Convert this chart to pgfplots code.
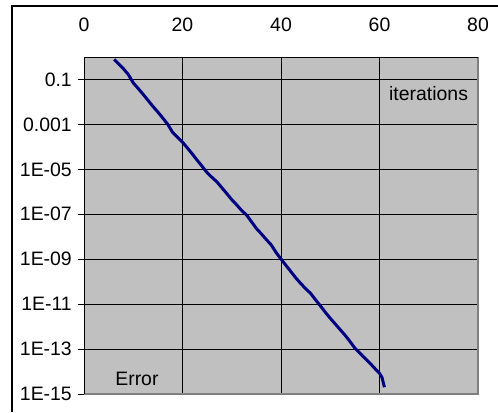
\documentclass[border=0pt]{standalone}
\usepackage{fontspec}
\setmainfont{Liberation Sans}
\usepackage{pgfplots}
\pgfplotsset{compat=1.18}
\definecolor{plotbg}{RGB}{192,192,192}
\definecolor{plotborder}{RGB}{128,128,128}
\definecolor{curve}{RGB}{0,0,128}
\begin{document}
\begin{tikzpicture}[x=1bp,y=1bp]
\useasboundingbox (-84,-18) rectangle (414,394);
\begin{axis}[
  at={(0,0)}, anchor=south west,
  scale only axis, width=394bp, height=337bp,
  xmin=0, xmax=80, ymode=log, ymin=1e-15, ymax=1,
  xtick={0,20,40,60,80},
  ytick={1e-1,1e-3,1e-5,1e-7,1e-9,1e-11,1e-13,1e-15},
  yticklabels={0.1,0.001,1E-05,1E-07,1E-09,1E-11,1E-13,1E-15},
  minor ytick={}, 
  xtick pos=upper, xticklabel pos=upper,
  ytick pos=left, yticklabel pos=left,
  xtick align=inside, ytick align=outside,
  major tick length=6bp,
  tick style={black, line width=0.8bp},
  grid=major,
  major grid style={black, line width=0.8bp},
  axis line style={draw=none},
  axis background/.style={fill=plotbg},
  /pgf/number format/assume math mode=true,
  every tick label/.append style={font=\fontsize{19.5}{23}\selectfont, inner sep=0pt},
  xticklabel style={anchor=base, yshift=25bp},
  yticklabel style={anchor=east, xshift=-6bp},
  clip=false,
]
\addplot[curve, line width=3bp, line join=round] coordinates {
(6.15,0.78) (7,0.501) (8,0.302) (9,0.166) (10,0.0708) (11,0.0398) (12,0.0219)
(13,0.01175) (14,6.31e-3) (15,3.55e-3) (16,1.91e-3) (17,1.02e-3) (18,4.37e-4)
(19,2.63e-4) (20,1.62e-4) (21,8.91e-5) (22,4.79e-5) (23,2.51e-5) (24,1.35e-5)
(25,7.08e-6) (26,4.37e-6) (27,2.75e-6) (28,1.51e-6) (29,8.32e-7) (30,4.47e-7)
(31,2.63e-7) (32,1.48e-7) (33,9.33e-8) (34,4.68e-8) (35,2.34e-8) (36,1.35e-8)
(37,7.59e-9) (38,4.37e-9) (39,2.0e-9) (40,1.02e-9) (41,5.37e-10) (42,2.82e-10)
(43,1.48e-10) (44,8.32e-11) (45,4.90e-11) (46,3.02e-11) (47,1.58e-11)
(48,8.32e-12) (49,4.37e-12) (50,2.34e-12) (51,1.32e-12) (52,7.41e-13)
(53,4.17e-13) (54,2.19e-13) (55,1.10e-13) (56,6.61e-14) (57,3.98e-14)
(58,2.45e-14) (59,1.41e-14) (60,8.32e-15) (60.5,5.5e-15) (61,2.0e-15)
};
\node[anchor=base west, inner sep=0pt, font=\fontsize{19.5}{23}\selectfont] at (rel axis cs:0.774,0.872) {iterations};
\node[anchor=base west, inner sep=0pt, font=\fontsize{19.5}{23}\selectfont] at (rel axis cs:0.079,0.025) {Error};
\end{axis}
\draw[plotborder, line width=1.5bp] (0,0) -- (394,0) -- (394,337);
\draw[black, line width=1bp] (0,0) -- (0,337) -- (394,337);
\draw[black, line width=2bp] (-72,-18) -- (-72,388) -- (414,388);
\end{tikzpicture}
\end{document}
